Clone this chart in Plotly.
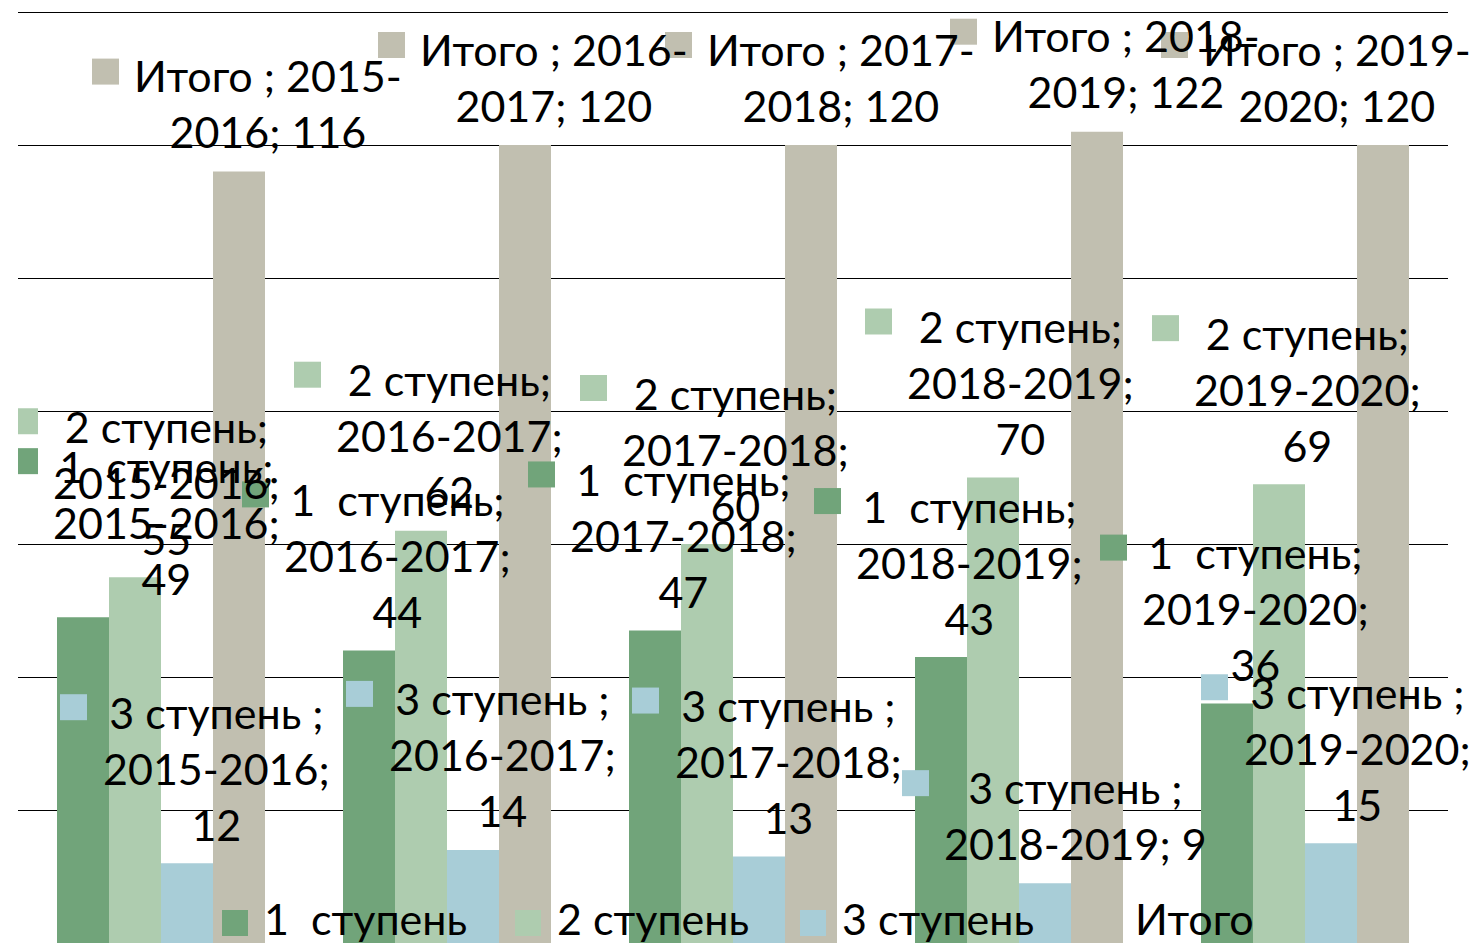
import plotly.graph_objects as go

# ---------------- data ----------------
categories = ["2015-2016", "2016-2017", "2017-2018", "2018-2019", "2019-2020"]
series_names = ["1\u00a0 ступень", "2 ступень", "3 ступень ", "Итого "]
step1 = [49, 44, 47, 43, 36]
step2 = [55, 62, 60, 70, 69]
step3 = [12, 14, 13, 9, 15]
total = [116, 120, 120, 122, 120]
series_values = [step1, step2, step3, total]

# ---------------- style / layout ----------------
colors = ["#71A47A", "#AECCAF", "#A8CDD7", "#C1BFB0"]
FONT = "Lato"
FS = 43
W, H = 1472, 944
Y_MAX = 140.3
ML, MR, MT, MB = 18, 24, 10, 1
BARGAP = 0.2727
PLOT_W = W - ML - MR
PLOT_H = H - MT - MB
CAT_PX = PLOT_W / len(categories)
BW = CAT_PX * (1 - BARGAP) / 4

# label text-centre offsets (px) from the top centre of each bar
label_dx = [
    [84, 29, 29, 29, 29],
    [32, 29, 29, 28, 29],
    [29, 29, 29, 30, 26],
    [29, 29, 30, 29, -46],
]


def label_lines(si, name, cat, v):
    if si == 3:
        a, b = cat.split("-")
        return [f"{name}; {a}-", f"{b}; {v}"]
    if len(str(v)) == 1:
        return [f"{name};", f"{cat}; {v}"]
    return [f"{name};", f"{cat};", f"{v}"]


def py_to_paper(py):
    return (H - MB - py) / PLOT_H


fig = go.Figure()
x_idx = list(range(len(categories)))
for si, (name, vals) in enumerate(zip(series_names, series_values)):
    fig.add_trace(go.Bar(
        x=x_idx, y=vals, name=name.strip(),
        marker=dict(color=colors[si], line=dict(width=0)),
        showlegend=False, hoverinfo="skip",
    ))

annotations = []
shapes = []
for si, (name, vals) in enumerate(zip(series_names, series_values)):
    for k, v in enumerate(vals):
        lines = label_lines(si, name, categories[k], v)
        n = len(lines)
        bx = (si - 1.5) * BW
        tx = bx + label_dx[si][k]
        ty = 95 if n == 3 else 68
        annotations.append(dict(
            x=k, y=v, xref="x", yref="y", xshift=tx, yshift=ty,
            text="<br>".join(lines), showarrow=False,
            xanchor="center", yanchor="middle", align="center",
            font=dict(family=FONT, size=FS, color="#000000"),
        ))
        if si == 3:
            rel = -176
        elif n == 2:
            rel = -173
        else:
            rel = -156
        sq_left = tx + rel
        sq_top = ty + (74 if n == 3 else 45)
        shapes.append(dict(
            type="rect", xref="x", yref="y",
            xsizemode="pixel", ysizemode="pixel",
            xanchor=k, yanchor=v,
            x0=sq_left, x1=sq_left + 27, y0=sq_top - 26, y1=sq_top,
            fillcolor=colors[si], line=dict(width=0), layer="above",
        ))

# custom legend along the bottom
legend_px = [222, 515, 800, 1093]
for si, name in enumerate(series_names):
    lx = legend_px[si]
    shapes.append(dict(
        type="rect", xref="paper", yref="paper",
        x0=(lx - ML) / PLOT_W, x1=(lx + 26 - ML) / PLOT_W,
        y0=py_to_paper(936), y1=py_to_paper(910),
        fillcolor=colors[si], line=dict(width=0), layer="above",
    ))
    annotations.append(dict(
        x=(lx + 40 - ML) / PLOT_W, y=py_to_paper(918.5),
        xref="paper", yref="paper", text=name.strip(), showarrow=False,
        xanchor="left", yanchor="middle",
        font=dict(family=FONT, size=FS, color="#000000"),
    ))

fig.update_layout(
    width=W, height=H, autosize=False,
    margin=dict(l=ML, r=MR, t=MT, b=MB),
    barmode="group", bargap=BARGAP, bargroupgap=0,
    plot_bgcolor="white", paper_bgcolor="white",
    showlegend=False,
    annotations=annotations, shapes=shapes,
    xaxis=dict(range=[-0.5, len(categories) - 0.5], showgrid=False,
               showticklabels=False, zeroline=False, showline=False, ticks=""),
    yaxis=dict(range=[0, Y_MAX], dtick=20, showgrid=True, gridcolor="#000000",
               gridwidth=1.2, showticklabels=False, zeroline=False,
               showline=False, ticks=""),
)

fig.write_html("out.html", config={"displayModeBar": False},
               post_script="document.body.style.margin='0';document.body.style.overflow='hidden';")
